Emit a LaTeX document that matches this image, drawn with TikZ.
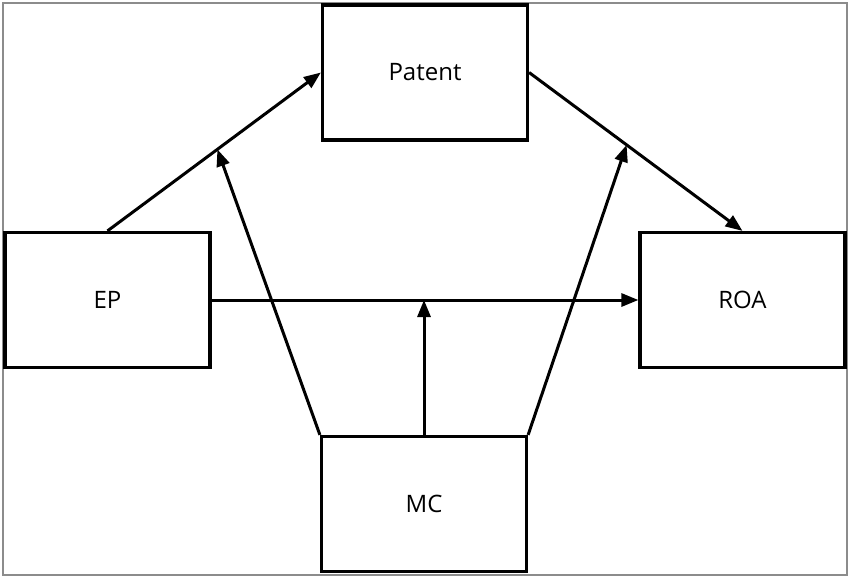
\documentclass[tikz,border=0pt]{standalone}
\usepackage{fontspec}
\setmainfont{Open Sans}
\usetikzlibrary{arrows.meta,calc}
\begin{document}
\begin{tikzpicture}[x=1pt,y=-1pt,
  varbox/.style={draw=black,line width=3.2pt,minimum width=205pt,minimum height=135pt,inner sep=0pt,
    font=\fontsize{24}{28}\selectfont},
  arr/.style={draw=black,line width=3pt,-{Triangle[length=17pt,width=13pt]}},
  frame/.style={draw=black!45,line width=1.2pt}]
\useasboundingbox (0,0) rectangle (850,578);
\draw[frame] (3,3) rectangle (847,575);
\node[varbox] (Patent) at (425,72.5) {Patent};
\node[varbox] (EP) at (107.5,300) {EP};
\node[varbox] (ROA) at (742.5,300) {ROA};
\node[varbox] (MC) at (424,504) {MC};
\coordinate (p1) at ($(EP.north)!0.515!(Patent.west)$);
\coordinate (p2) at ($(Patent.east)!0.457!(ROA.north)$);
\coordinate (p3) at (MC.north |- EP.east);
\draw[arr] (EP.north) -- (Patent.west);
\draw[arr] (Patent.east) -- (ROA.north);
\draw[arr] (EP.east) -- (ROA.west);
\draw[arr] (MC.north) -- (p3);
\draw[arr] (MC.north west) -- (p1);
\draw[arr] (MC.north east) -- (p2);
\end{tikzpicture}
\end{document}
